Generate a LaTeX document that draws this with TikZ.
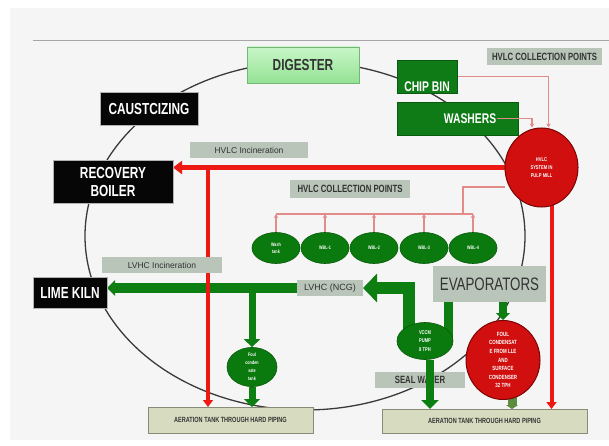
\documentclass[tikz,border=0pt]{standalone}
\usepackage{fontspec}
\setmainfont{Liberation Sans}
\newfontfamily\cnd[FakeStretch=0.74]{Liberation Sans}
\usetikzlibrary{arrows.meta,shapes.geometric}
\pgfdeclarelayer{bg}
\pgfdeclarelayer{conn}
\pgfsetlayers{bg,conn,main}
\definecolor{bgc}{HTML}{F5F5F5}
\definecolor{blk}{HTML}{060606}
\definecolor{gbox}{HTML}{0E7B17}
\definecolor{gboxd}{HTML}{0A5A10}
\definecolor{grayb}{HTML}{B8C5B8}
\definecolor{txt}{HTML}{333333}
\definecolor{tankc}{HTML}{D7DCC0}
\definecolor{tankd}{HTML}{8A8A78}
\definecolor{gellc}{HTML}{0B7A0E}
\definecolor{gelld}{HTML}{075A09}
\definecolor{rfill}{HTML}{D20F0F}
\definecolor{rdark}{HTML}{7A0505}
\definecolor{rline}{HTML}{EC1A12}
\definecolor{pinkc}{HTML}{E38A8A}
\definecolor{gp}{HTML}{0C7E12}
\definecolor{olivec}{HTML}{5E8C3E}
\definecolor{cyc}{HTML}{3A3A3A}
\definecolor{dgtop}{HTML}{C8F6C8}
\definecolor{dgbot}{HTML}{94E294}
\tikzset{
  bx/.style={rectangle, anchor=north west, inner sep=0pt, outer sep=0pt},
  blackbox/.style={bx, fill=blk, draw=gray!60, line width=0.6pt, text=white, font=\cnd\bfseries\fontsize{16}{18}\selectfont},
  greenbox/.style={bx, fill=gbox, draw=gboxd, line width=0.6pt, text=white, font=\cnd\bfseries\fontsize{14}{14}\selectfont},
  graybox/.style={bx, fill=grayb, text=txt},
  smalllab/.style={font=\fontsize{8.5}{8.5}\selectfont},
  caplab/.style={font=\cnd\bfseries\fontsize{10.5}{10.5}\selectfont},
  tankbox/.style={bx, fill=tankc, draw=tankd, line width=0.8pt, text=txt, font=\cnd\bfseries\fontsize{7.5}{7.5}\selectfont},
  gell/.style={ellipse, fill=gellc, draw=gelld, line width=0.6pt, inner sep=0pt, text=white, align=center, font=\cnd\bfseries\fontsize{5}{6.5}\selectfont},
  rell/.style={ellipse, fill=rfill, draw=rdark, line width=1pt, inner sep=0pt, text=white, align=center},
  redline/.style={draw=rline, line width=5pt, -{Triangle[length=9pt,width=13pt]}},
  redv/.style={draw=rline, line width=4pt, -{Triangle[length=7pt,width=10pt]}},
  pink/.style={draw=pinkc, line width=1.2pt},
  pinkarr/.style={pink, -{Stealth[length=4pt,width=4.5pt]}},
  gpipe/.style={draw=gp, line width=10pt, line join=miter},
  cyc/.style={draw=cyc, line width=1.3pt},
}
\begin{document}
\begin{tikzpicture}[x=1pt,y=-1pt]
\useasboundingbox (0,0) rectangle (609,446);
\begin{pgfonlayer}{bg}
  \fill[white] (0,0) rectangle (609,446);
  \fill[bgc] (10,8) rectangle (609,440);
  \draw[gray!70, line width=1pt] (33,41) -- (609,41);
  \draw[cyc] (305,236) ellipse [x radius=220pt, y radius=174pt];
\end{pgfonlayer}

% boxes
\node[bx, top color=dgtop, bottom color=dgbot, draw=dgbot!80!black, line width=0.4pt, text=txt,
      font=\cnd\bfseries\fontsize{16}{16}\selectfont, minimum width=112pt, minimum height=36pt] (dg) at (247,47) {DIGESTER};
\node[greenbox, minimum width=60pt, text height=31.5pt, text depth=1.5pt] (cb) at (397,60) {CHIP BIN};
\node[greenbox, minimum width=121pt, minimum height=33pt] (wa) at (397,102) {\hspace*{25pt}WASHERS};
\node[graybox, caplab, minimum width=115pt, minimum height=17pt] (hcp1) at (487,48) {HVLC COLLECTION POINTS};
\node[blackbox, minimum width=98pt, minimum height=33pt] (ca) at (100,92) {CAUSTCIZING};
\node[blackbox, align=center, minimum width=120pt, minimum height=43pt] (rb) at (53,160) {RECOVERY\\BOILER};
\node[graybox, smalllab, minimum width=118pt, minimum height=16pt] (hinc) at (190,142) {HVLC Incineration};
\node[graybox, caplab, minimum width=120pt, minimum height=18pt] (hcp2) at (290,180) {HVLC COLLECTION POINTS};
\node[graybox, smalllab, minimum width=120pt, minimum height=16pt] (linc) at (102,257) {LVHC Incineration};
\node[blackbox, minimum width=74pt, minimum height=31pt] (lk) at (33,277) {LIME KILN};
\node[graybox, font=\fontsize{9}{9}\selectfont, minimum width=66pt, minimum height=16pt] (ncg) at (297,280) {LVHC (NCG)};
\node[graybox, font=\cnd\fontsize{18}{18}\selectfont, minimum width=113pt, minimum height=36pt] (ev) at (433,266) {EVAPORATORS};
\node[graybox, caplab, minimum width=90pt, minimum height=16pt] (sw) at (375,372) {SEAL WATER};
\node[tankbox, minimum width=165pt, minimum height=26pt] (aL) at (148,407) {AERATION TANK THROUGH HARD PIPING};
\node[tankbox, minimum width=205pt, minimum height=24pt] (aR) at (382,409) {AERATION TANK THROUGH HARD PIPING};

% ellipses
\node[rell, minimum width=73pt, minimum height=79pt, font=\cnd\bfseries\fontsize{5.5}{8}\selectfont] (hs) at (541.5,167.5) {HVLC\\SYSTEM IN\\PULP MILL};
\node[rell, minimum width=74pt, minimum height=74pt, font=\cnd\bfseries\fontsize{6}{8.6}\selectfont] (fc) at (503,360) {FOUL\\CONDENSAT\\E FROM LLE\\AND\\SURFACE\\CONDENSER\\32 TPH};
\node[gell, minimum width=48pt, minimum height=31pt] (e1) at (276,248) {Wash\\tank};
\node[gell, minimum width=48pt, minimum height=31pt] (e2) at (325,248) {WBL-1};
\node[gell, minimum width=48pt, minimum height=31pt] (e3) at (374,248) {WBL-2};
\node[gell, minimum width=48pt, minimum height=31pt] (e4) at (424,248) {WBL-3};
\node[gell, minimum width=48pt, minimum height=31pt] (e5) at (473,248) {WBL-4};
\node[gell, minimum width=50pt, minimum height=38pt, font=\cnd\bfseries\fontsize{5}{8}\selectfont] (ft) at (252,367) {Foul\\conden\\sate\\tank};
\node[gell, minimum width=56pt, minimum height=37pt, font=\cnd\bfseries\fontsize{5.5}{8.5}\selectfont] (pump) at (425,341) {VCCM\\PUMP\\8 TPH};

\coordinate (rj) at (208,167.5);
\coordinate (hy) at (0,214);
\coordinate (hj) at (463,214);
\coordinate (hy2) at (0,187);

\begin{pgfonlayer}{conn}
  % green pipes
  \draw[gpipe, -{Triangle[length=8pt,width=15pt]}] (ncg.west) -- (ncg.west -| lk.east);
  \draw[gpipe, line width=7pt, -{Triangle[length=8pt,width=16pt]}] (ft.north |- ncg.west) -- (ft.north);
  \draw[gpipe, line width=7pt, -{Triangle[length=8pt,width=16pt]}] (ft.south) -- (ft.south |- aL.north);
  \draw[gpipe, line width=12pt, -{Triangle[length=14pt,width=28pt]}] ([xshift=-16pt]pump.center) -- ([xshift=-16pt]pump.center |- ncg.east) -- (ncg.east);
  \draw[gpipe, line width=9pt] ([xshift=-41.5pt]ev.south) -- ([xshift=-41.5pt]ev.south |- pump.center);
  \draw[gpipe, line width=8pt, -{Triangle[length=7pt,width=14pt]}] (ev.south -| fc.north) -- (fc.north);
  \draw[draw=olivec, line width=9pt, -{Triangle[length=4pt,width=12pt]}] ([xshift=9pt]fc.center) -- ([xshift=9pt]fc.center |- aR.north);
  % red lines
  \draw[redline] (hs.west) -- (hs.west -| rb.east);
  \draw[redv] (rj) -- (rj |- aL.north);
  \draw[redv] ([xshift=10pt]hs.center) -- ([xshift=10pt]hs.center |- aR.north);
  % pink collection lines
  \draw[pinkarr] (cb.east) -| ([xshift=7pt]hs.north);
  \foreach \i in {1,...,5} { \draw[pinkarr] (e\i.north) -- (e\i.north |- hy); }
  \draw[pink] (e1.north |- hy) -- (e5.north |- hy);
  \draw[pink] (hj) |- (hs.west |- hy2);
\end{pgfonlayer}

% on top
\draw[pinkarr] ([xshift=-21pt]wa.east) -| ([xshift=-9.5pt]hs.north);
\draw[gpipe, line width=8pt, -{Triangle[length=9pt,width=17pt]}] ([xshift=5pt]pump.south) -- ([xshift=5pt]pump.south |- aR.north);
\end{tikzpicture}
\end{document}
